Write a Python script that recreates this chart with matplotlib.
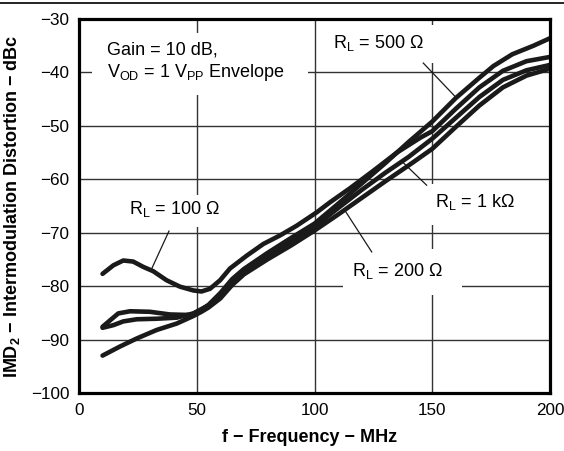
import matplotlib
matplotlib.use("Agg")
import matplotlib.pyplot as plt
from matplotlib.patches import Rectangle
from matplotlib.lines import Line2D

plt.rcParams['font.family'] = ['Liberation Sans', 'DejaVu Sans']
plt.rcParams['mathtext.fontset'] = 'custom'
plt.rcParams['mathtext.rm'] = 'Liberation Sans'
plt.rcParams['mathtext.it'] = 'Liberation Sans:italic'
plt.rcParams['mathtext.bf'] = 'Liberation Sans:bold'
plt.rcParams['mathtext.default'] = 'rm'

# ---- data ----
f_100 = [10, 14.6, 18.8, 23, 27.3, 31.5, 37.2, 42.9, 48.5, 52, 55.6, 59.9, 64.1,
         71.2, 78.3, 85.4, 92.4, 100.9, 106.6, 115, 125, 135, 145, 150, 160,
         170, 180, 190, 200]
imd_100 = [-77.7, -76.1, -75.2, -75.4, -76.4, -77.2, -78.9, -80.1, -80.8, -81.0,
           -80.5, -78.9, -76.7, -74.3, -72.1, -70.5, -68.7, -66.2, -64.3, -61.7,
           -58.4, -55.0, -52.2, -51.0, -46.8, -42.8, -39.7, -37.9, -37.1]

f_500 = [10, 13.2, 16.7, 21.7, 30.1, 38.6, 47.1, 50, 55, 60, 65, 70, 80, 90, 100,
         110, 120, 130, 140, 150, 160, 170, 176, 184, 193, 200]
imd_500 = [-87.6, -86.4, -85.1, -84.7, -84.8, -85.3, -85.4, -85.0, -83.5, -81.3,
           -78.7, -76.8, -73.8, -71.0, -68.3, -64.6, -60.8, -57.0, -53.0, -49.2,
           -44.8, -41.0, -38.8, -36.6, -35.0, -33.6]

f_1k = [10, 14.6, 18.8, 24.5, 33, 41.5, 48.5, 55, 60, 65, 70, 80, 90, 100, 110,
        120, 130, 140, 150, 160, 170, 180, 190, 200]
imd_1k = [-87.8, -87.3, -86.6, -86.2, -86.1, -85.9, -85.1, -83.6, -81.8, -79.3,
          -77.3, -74.5, -71.8, -68.9, -65.4, -62.0, -58.8, -55.8, -52.4, -48.5,
          -44.6, -41.4, -39.6, -38.6]

f_200 = [10, 17.4, 24.5, 33, 41.5, 48.5, 52, 55, 60, 65, 70, 80, 90, 100, 110,
         120, 130, 140, 150, 160, 170, 180, 190, 200]
imd_200 = [-93.0, -91.3, -89.8, -88.2, -87.0, -85.6, -84.8, -84.0, -82.3, -79.8,
           -77.8, -75.0, -72.4, -69.6, -66.6, -63.5, -60.4, -57.4, -54.3, -50.2,
           -46.2, -42.8, -40.6, -39.3]

x_ticks = [0, 50, 100, 150, 200]
y_ticks = [-100, -90, -80, -70, -60, -50, -40, -30]

# ---- figure ----
fig = plt.figure(figsize=(5.64, 4.51), dpi=100)
ax = fig.add_axes([79/564, 1-393/451, 471/564, 374/451])
ax.set_xlim(0, 200)
ax.set_ylim(-100, -30)
ax.set_xticks(x_ticks)
ax.set_yticks(y_ticks)
ax.set_yticklabels([str(v).replace('-', '\u2212') for v in y_ticks])
ax.tick_params(length=0, labelsize=12.3)
ax.tick_params(axis='x', pad=7)
ax.tick_params(axis='y', pad=7)
ax.grid(True, color='#333333', lw=1.0, zorder=1)
ax.set_axisbelow(True)
for s in ax.spines.values():
    s.set_linewidth(2.3)
    s.set_color('black')
    s.set_zorder(10)

# white boxes interrupting the grid behind the labels
boxes = [(5.5, -44.2, 91.7, 11.6), (102.3, -38.2, 51.0, 7.1),
         (18.3, -68.9, 45.0, 5.9), (148.2, -68.5, 39.1, 7.6),
         (112.1, -81.6, 50.5, 8.6)]
for (x0, y0, w, h) in boxes:
    ax.add_patch(Rectangle((x0, y0), w, h, facecolor='white', edgecolor='none', zorder=2))

for fx, fy in [(f_100, imd_100), (f_500, imd_500), (f_1k, imd_1k), (f_200, imd_200)]:
    ax.plot(fx, fy, color='#1a1a1a', lw=3.3, solid_joinstyle='round',
            solid_capstyle='round', zorder=5)

# leader lines
for (x1, y1, x2, y2) in [(38.2, -69.7, 30.6, -77.0), (146.2, -38.25, 159.7, -44.5),
                         (137.7, -56.9, 147.6, -61.1), (113.0, -65.9, 124.3, -73.6)]:
    ax.plot([x1, x2], [y1, y2], color='#1a1a1a', lw=0.9, zorder=4)

fs = 13
ax.text(11.7, -35.8, 'Gain = 10 dB,', fontsize=fs, va='center', ha='left', zorder=6)
ax.text(11.7, -40.0, r'V$_{\mathregular{OD}}$ = 1 V$_{\mathregular{PP}}$ Envelope',
        fontsize=fs, va='center', ha='left', zorder=6)
ax.text(107.9, -34.5, r'R$_{\mathregular{L}}$ = 500 Ω', fontsize=fs, va='center', ha='left', zorder=6)
ax.text(21.2, -65.6, r'R$_{\mathregular{L}}$ = 100 Ω', fontsize=fs, va='center', ha='left', zorder=6)
ax.text(151.2, -64.3, r'R$_{\mathregular{L}}$ = 1 kΩ', fontsize=fs, va='center', ha='left', zorder=6)
ax.text(115.8, -77.1, r'R$_{\mathregular{L}}$ = 200 Ω', fontsize=fs, va='center', ha='left', zorder=6)

ax.set_xlabel('f \u2212 Frequency \u2212 MHz', fontsize=13, fontweight='bold')
ax.set_ylabel('IMD$_\\mathbf{2}$ \u2212 Intermodulation Distortion \u2212 dBc',
              fontsize=13, fontweight='bold')
ax.xaxis.set_label_coords(0.49, -0.097)
ax.yaxis.set_label_coords(-0.121, 0.5)

fig.add_artist(Line2D([0, 1], [1-2.5/451, 1-2.5/451], color='black', lw=1.2))

fig.savefig('out.png', dpi=100)
